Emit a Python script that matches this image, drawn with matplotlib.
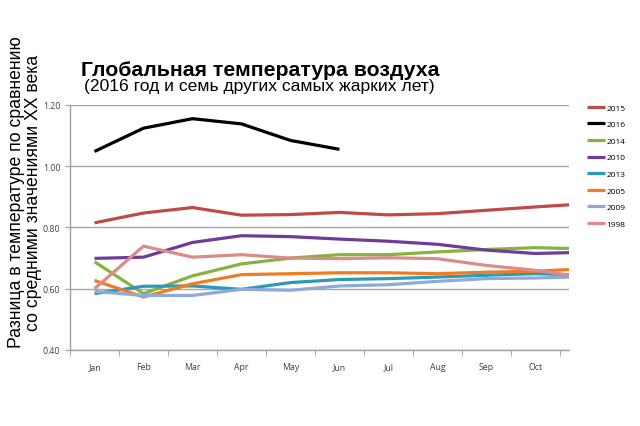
import matplotlib.pyplot as plt

# months (Nov only partly visible at the right edge)
months = ["Jan", "Feb", "Mar", "Apr", "May", "Jun", "Jul", "Aug", "Sep", "Oct", "Nov"]

y2015 = [0.815, 0.847, 0.865, 0.840, 0.842, 0.849, 0.841, 0.845, 0.856, 0.867, 0.877]
y2016 = [1.048, 1.124, 1.155, 1.138, 1.084, 1.055]
y2014 = [0.688, 0.584, 0.642, 0.681, 0.700, 0.711, 0.711, 0.720, 0.728, 0.734, 0.730]
y2010 = [0.699, 0.703, 0.751, 0.773, 0.770, 0.762, 0.755, 0.745, 0.726, 0.715, 0.719]
y2013 = [0.584, 0.608, 0.609, 0.598, 0.620, 0.630, 0.633, 0.638, 0.644, 0.649, 0.645]
y2005 = [0.627, 0.573, 0.616, 0.646, 0.649, 0.652, 0.652, 0.649, 0.654, 0.657, 0.665]
y2009 = [0.591, 0.578, 0.578, 0.598, 0.595, 0.609, 0.613, 0.624, 0.633, 0.635, 0.639]
y1998 = [0.600, 0.739, 0.703, 0.711, 0.700, 0.698, 0.701, 0.698, 0.676, 0.660, 0.637]

series = [
    ("2015", y2015, "#be4b48"),
    ("2016", y2016, "#000000"),
    ("2014", y2014, "#86b23e"),
    ("2010", y2010, "#6f3d98"),
    ("2013", y2013, "#2e98b8"),
    ("2005", y2005, "#ee7d22"),
    ("2009", y2009, "#8eaada"),
    ("1998", y1998, "#d98c8a"),
]

fig = plt.figure(figsize=(6.4, 4.27), dpi=100)
ax = fig.add_axes([0.1094, 0.178, 0.78, 0.574])

x = list(range(len(months)))
for name, vals, color in series:
    ax.plot(x[:len(vals)], vals, color=color, lw=2.3, label=name,
            solid_capstyle="butt", solid_joinstyle="round")

ax.set_xlim(-0.49, 9.69)
ax.set_ylim(0.40, 1.20)
ax.set_yticks([0.40, 0.60, 0.80, 1.00, 1.20])
ax.set_yticklabels(["0.40", "0.60", "0.80", "1.00", "1.20"], fontsize=6.3,
                   family="Open Sans", color="#404040")
ax.set_xticks(range(10))
ax.set_xticklabels(months[:10], fontsize=6.3, family="Open Sans", color="#404040")
ax.set_xticks([i - 0.5 for i in range(11)], minor=True)
ax.tick_params(axis="x", which="major", length=0, pad=9)
ax.tick_params(axis="x", which="minor", length=4, color="#a0a0a0")
ax.tick_params(axis="y", length=3.6, color="#a0a0a0", pad=3.4)
ax.grid(axis="y", color="#a6a6a6", lw=1)
ax.set_axisbelow(True)
for s in ["top", "right"]:
    ax.spines[s].set_visible(False)
for s in ["left", "bottom"]:
    ax.spines[s].set_color("#a0a0a0")
    ax.spines[s].set_linewidth(1)

fig.text(0.126, 0.822, "Глобальная температура воздуха", fontsize=15.3,
         fontweight="bold", family="Liberation Sans", va="baseline")
fig.text(0.131, 0.787, "(2016 год и семь других самых жарких лет)", fontsize=12.6,
         family="Liberation Sans", va="baseline")
fig.text(0.039, 0.549, "Разница в температуре по сравнению\nсо средними значениями XX века",
         rotation=90, fontsize=12.7, family="Liberation Sans",
         ha="center", va="center", linespacing=1.05)

leg = fig.legend(loc="upper left", bbox_to_anchor=(0.905, 0.772), frameon=False,
                 fontsize=6, handlelength=2.2, handletextpad=0.15,
                 labelspacing=1.05, prop={"family": "Open Sans", "size": 6})

fig.savefig("out.png", dpi=100)
